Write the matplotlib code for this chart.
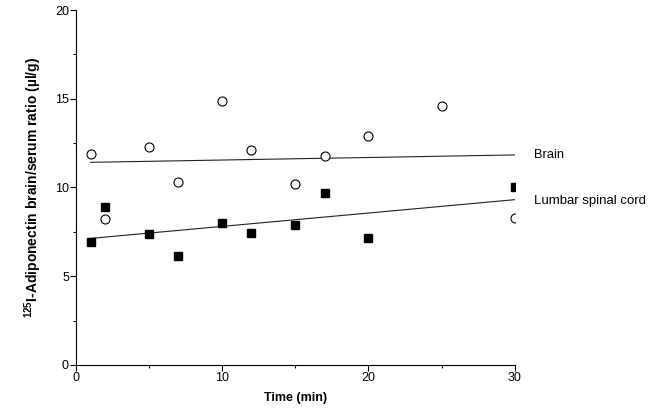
import numpy as np
import matplotlib
matplotlib.use('Agg')
import matplotlib.pyplot as plt
from matplotlib.ticker import MultipleLocator

plt.rcParams['font.family'] = ['Liberation Sans', 'DejaVu Sans']
plt.rcParams['mathtext.fontset'] = 'custom'
plt.rcParams['mathtext.rm'] = 'Liberation Sans'
plt.rcParams['mathtext.bf'] = 'Liberation Sans:bold'

# datos
brain_t = [1, 2, 5, 7, 10, 12, 15, 17, 20, 25, 30]
brain_v = [11.9, 8.2, 12.3, 10.3, 14.9, 12.1, 10.2, 11.8, 12.9, 14.6, 8.3]
cord_t = [1, 2, 5, 7, 10, 12, 15, 17, 20, 30]
cord_v = [6.9, 8.9, 7.35, 6.15, 8.0, 7.45, 7.9, 9.7, 7.15, 10.0]

fig = plt.figure(figsize=(6.72, 4.18), dpi=100)
ax = fig.add_axes([0.113, 0.127, 0.653, 0.849])

# rectas de regresion
for t, v in [(brain_t, brain_v), (cord_t, cord_v)]:
    m, b = np.polyfit(t, v, 1)
    xs = np.array([1, 30])
    ax.plot(xs, m * xs + b, color='#222222', lw=0.8, zorder=1)

ax.plot(brain_t, brain_v, 'o', ms=6.5, mfc='white', mec='black', mew=0.8, zorder=3)
ax.plot(cord_t, cord_v, 's', ms=6, mfc='black', mec='black', zorder=3)

ax.text(1.045, 11.85, 'Brain', transform=ax.get_yaxis_transform(), fontsize=9.3, va='center')
ax.text(1.045, 9.25, 'Lumbar spinal cord', transform=ax.get_yaxis_transform(), fontsize=9.5, va='center')

ax.set_xlim(0, 30)
ax.set_ylim(0, 20)
ax.xaxis.set_major_locator(MultipleLocator(10))
ax.xaxis.set_minor_locator(MultipleLocator(5))
ax.yaxis.set_major_locator(MultipleLocator(5))
ax.yaxis.set_minor_locator(MultipleLocator(2.5))
ax.spines['top'].set_visible(False)
ax.spines['right'].set_visible(False)
for s in ['left', 'bottom']:
    ax.spines[s].set_linewidth(0.8)
ax.tick_params(which='major', direction='out', length=4, width=0.8, labelsize=9, pad=1)
ax.tick_params(which='minor', direction='out', length=2.5, width=0.8)

ax.set_xlabel('Time (min)', fontsize=9, fontweight='bold', labelpad=6)
ax.set_ylabel(r'$\mathbf{^{125}}$I-Adiponectin brain/serum ratio (µl/g)',
              fontsize=10, fontweight='bold', labelpad=8)

fig.savefig('out.png', dpi=100)
